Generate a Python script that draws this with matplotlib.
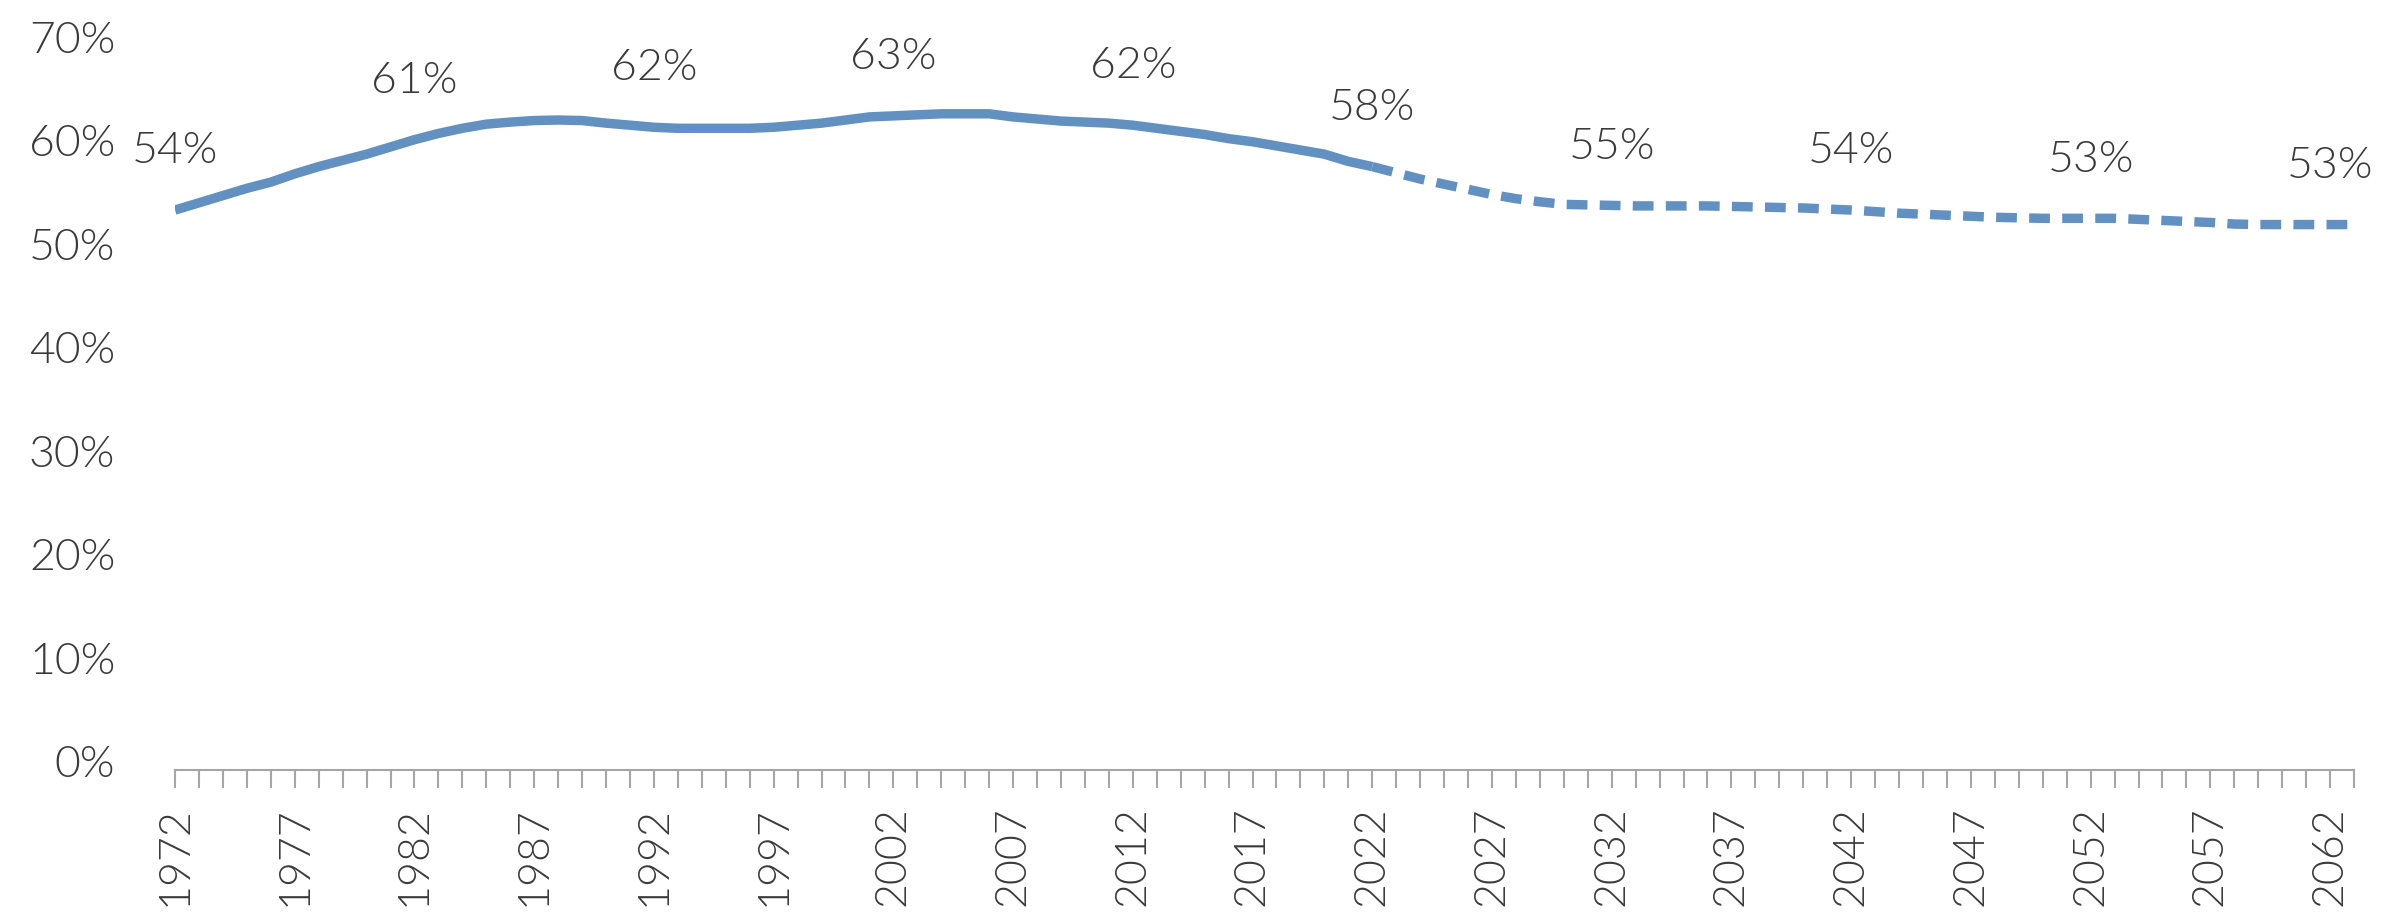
import matplotlib
matplotlib.use("Agg")
import matplotlib.pyplot as plt
import matplotlib.transforms as mtransforms
from matplotlib.ticker import FixedLocator, MultipleLocator, FuncFormatter

# ---- data ----
hist_years = list(range(1972, 2023))
hist_values = [54.1, 54.8, 55.5, 56.2, 56.8, 57.6, 58.3, 58.9, 59.5, 60.2,
               60.9, 61.5, 62.0, 62.4, 62.6, 62.75, 62.8, 62.75, 62.5, 62.3,
               62.1, 62.0, 62.0, 62.0, 62.0, 62.1, 62.3, 62.5, 62.8, 63.1,
               63.2, 63.3, 63.4, 63.4, 63.4, 63.1, 62.9, 62.7, 62.6, 62.5,
               62.3, 62.0, 61.7, 61.4, 61.0, 60.7, 60.3, 59.9, 59.5, 58.8,
               58.3]
proj_years = list(range(2022, 2064))
proj_values = [58.3, 57.7, 57.1, 56.6, 56.1, 55.6, 55.2, 54.9, 54.65, 54.6,
               54.55, 54.5, 54.5, 54.5, 54.5, 54.45, 54.4, 54.35, 54.3, 54.2,
               54.1, 53.95, 53.8, 53.7, 53.6, 53.5, 53.4, 53.35, 53.3, 53.3,
               53.3, 53.3, 53.2, 53.1, 53.0, 52.9, 52.75, 52.7, 52.7, 52.7,
               52.7, 52.7]
label_years = [1972, 1982, 1992, 2002, 2012, 2022, 2032, 2042, 2052, 2062]
label_texts = ["54%", "61%", "62%", "63%", "62%", "58%", "55%", "54%", "53%", "53%"]
y_ticks = [0, 10, 20, 30, 40, 50, 60, 70]
x_label_years = list(range(1972, 2064, 5))

# ---- style ----
LINE = "#6190c1"
TEXT = "#3a3a3a"
AXIS = "#a6a6a6"
plt.rcParams['font.family'] = ['Lato', 'DejaVu Sans']
FS = 32
FSX = 31
FW = 300

fig = plt.figure(figsize=(23.84, 9.14), dpi=100)
ax = fig.add_axes([0.07341, 0.15755, 0.91401, 0.79267])

ax.plot(hist_years, hist_values, color=LINE, lw=6.8, solid_capstyle='butt',
        solid_joinstyle='round')
ax.plot(proj_years, proj_values, color=LINE, lw=6.8, dashes=(2.2, 1.3),
        dash_capstyle='butt')

all_years = hist_years + proj_years[1:]
all_vals = hist_values + proj_values[1:]
for yr, txt in zip(label_years, label_texts):
    v = all_vals[all_years.index(yr)]
    ax.annotate(txt, (yr, v), xytext=(0, 42), textcoords='offset points',
                ha='center', va='center', fontsize=FS, color=TEXT,
                fontweight=FW)

ax.set_xlim(1972, 2063)
ax.set_ylim(0, 70)

ax.yaxis.set_major_locator(FixedLocator(y_ticks))
ax.yaxis.set_major_formatter(FuncFormatter(lambda v, p: f"{int(v)}%"))
ax.tick_params(axis='y', length=0, pad=43, labelsize=FS, labelcolor=TEXT)

ax.xaxis.set_major_locator(FixedLocator(x_label_years))
ax.xaxis.set_minor_locator(MultipleLocator(1))
ax.xaxis.set_major_formatter(FuncFormatter(lambda v, p: f"{int(v)}"))
ax.tick_params(axis='x', which='both', direction='out', length=13, width=1.5,
               color=AXIS)
ax.tick_params(axis='x', which='major', pad=13, labelsize=FSX,
               labelcolor=TEXT, labelrotation=90)

for lab in ax.get_yticklabels() + ax.get_xticklabels():
    lab.set_fontweight(FW)

offset = mtransforms.ScaledTranslation(0, 8 / 100, fig.dpi_scale_trans)
for lab in ax.get_yticklabels():
    lab.set_transform(lab.get_transform() + offset)

for s in ['top', 'right', 'left']:
    ax.spines[s].set_visible(False)
ax.spines['bottom'].set_color(AXIS)
ax.spines['bottom'].set_linewidth(1.5)

fig.savefig("out.png", dpi=100, facecolor='white')
